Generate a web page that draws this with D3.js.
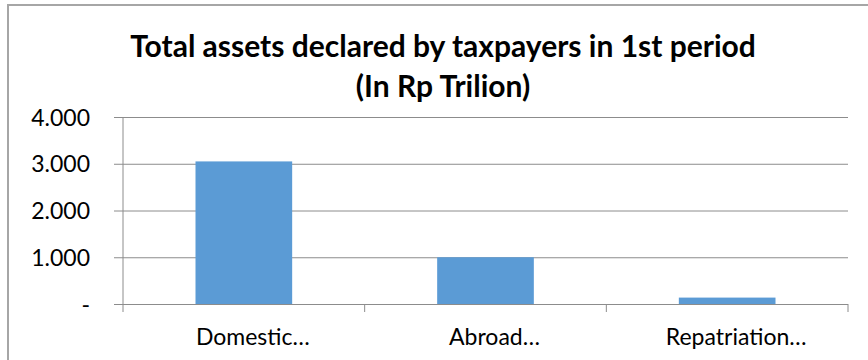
<!DOCTYPE html>
<html>
<head>
<meta charset="utf-8">
<script src="https://cdn.jsdelivr.net/npm/d3@7"></script>
<style>
    body { margin: 0; background: #fff; }
    svg text { font-family: Lato, "Open Sans", "Liberation Sans", sans-serif; fill: #000; }
    .title-text { font-weight: bold; font-size: 30px; }
    .tick-text { font-size: 23px; }
</style>
</head>
<body>
<div id="chart"></div>
<script>

/* chart data */
const categories = ["Domestic…", "Abroad…", "Repatriation…"];
const assetValues = [3050, 1000, 137];
const yTickValues = [0, 1000, 2000, 3000, 4000];
const yTickLabels = ["-", "1.000", "2.000", "3.000", "4.000"];
const titleLines = ["Total assets declared by taxpayers in 1st period", "(In Rp Trilion)"];

/* layout */
const fullWidth = 868, fullHeight = 360;
const plot = { left: 123, right: 848, top: 117, bottom: 304 };

const svg = d3.select("#chart")
    .append("svg")
    .attr("width", fullWidth)
    .attr("height", fullHeight);

/* outer chart frame (cropped on the right and bottom) */
svg.append("rect")
    .attr("x", 8).attr("y", 5)
    .attr("width", fullWidth + 20).attr("height", fullHeight + 20)
    .attr("fill", "none")
    .attr("stroke", "#a6a6a6")
    .attr("stroke-width", 2);

/* title */
svg.append("text")
    .attr("class", "title-text")
    .attr("x", 443)
    .attr("text-anchor", "middle")
    .selectAll("tspan")
    .data(titleLines)
    .join("tspan")
    .attr("x", 443)
    .attr("y", (d, i) => 57 + i * 40)
    .text(d => d);

/* scales */
const xScale = d3.scaleBand()
    .domain(categories)
    .range([plot.left, plot.right])
    .paddingInner(0.6)
    .paddingOuter(0.3);

const bandScale = d3.scaleBand()
    .domain(categories)
    .range([plot.left, plot.right]);

const yScale = d3.scaleLinear()
    .domain([0, 4000])
    .range([plot.bottom, plot.top]);

/* gridlines + y labels */
const yAxis = svg.append("g")
    .attr("transform", `translate(${plot.left}, 0)`)
    .call(d3.axisLeft(yScale)
        .tickValues(yTickValues)
        .tickSize(-(plot.right - plot.left))
        .tickSizeOuter(0)
        .tickFormat((d, i) => yTickLabels[i]));

yAxis.select(".domain").remove();
yAxis.selectAll(".tick line")
    .attr("x1", -9)
    .attr("stroke", "#8c8c8c")
    .attr("stroke-width", 1);
yAxis.selectAll(".tick text")
    .attr("class", "tick-text")
    .attr("x", -33)
    .attr("dy", "0.35em");

/* vertical axis line */
svg.append("line")
    .attr("x1", plot.left).attr("x2", plot.left)
    .attr("y1", plot.top).attr("y2", plot.bottom + 8)
    .attr("stroke", "#8c8c8c");

/* bars */
svg.append("g")
    .selectAll("rect")
    .data(assetValues)
    .join("rect")
    .attr("x", (d, i) => xScale(categories[i]))
    .attr("y", d => yScale(d))
    .attr("width", xScale.bandwidth())
    .attr("height", d => yScale(0) - yScale(d))
    .attr("fill", "#5b9bd5");

/* category axis */
const xAxis = svg.append("g")
    .attr("transform", `translate(0, ${plot.bottom})`);

xAxis.selectAll("line.cat-tick")
    .data(categories)
    .join("line")
    .attr("class", "cat-tick")
    .attr("x1", d => bandScale(d) + bandScale.bandwidth())
    .attr("x2", d => bandScale(d) + bandScale.bandwidth())
    .attr("y1", 0).attr("y2", 8)
    .attr("stroke", "#8c8c8c");

xAxis.selectAll("text")
    .data(categories)
    .join("text")
    .attr("class", "tick-text")
    .attr("x", d => bandScale(d) + bandScale.bandwidth() / 2 + 9)
    .attr("y", 41)
    .attr("text-anchor", "middle")
    .text(d => d);

</script>
</body>
</html>
